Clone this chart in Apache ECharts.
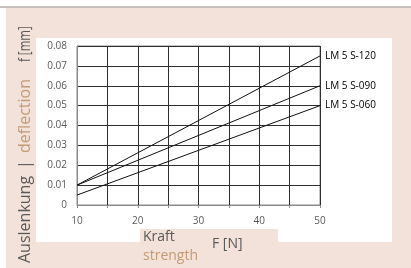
<!DOCTYPE html>
<html><head><meta charset="utf-8">
<script src="https://cdn.jsdelivr.net/npm/echarts@6/dist/echarts.min.js"></script>
<style>html,body{margin:0;padding:0;background:#fff}#c{width:411px;height:268px}</style>
</head><body><div id="c"></div>
<script>
const forceN = [10, 50];
const s120 = [0.01, 0.075];
const s090 = [0.01, 0.06];
const s060 = [0.005, 0.05];
const seriesNames = ['LM 5 S-120', 'LM 5 S-090', 'LM 5 S-060'];
const xTicks = [10, 20, 30, 40, 50];
const yTicks = ['0', '0.01', '0.02', '0.03', '0.04', '0.05', '0.06', '0.07', '0.08'];

const beige = '#f2e2d9';
const gray = '#595959';
const orange = '#c49a74';
const font = 'Open Sans';

const chart = echarts.init(document.getElementById('c'), null, {renderer: 'canvas'});
function mk(vals) { return forceN.map((x, i) => [x, vals[i]]); }
const allVals = [s120, s090, s060];
function vtext(txt, y, color, size, sx) {
  return {type: 'text', z: 5, x: 25, y: y, rotation: Math.PI / 2, scaleX: sx || 1,
    style: {text: txt, fill: color, font: size + 'px "Open Sans"', textVerticalAlign: 'middle', textAlign: 'left'}};
}
chart.setOption({
  animation: false,
  backgroundColor: '#ffffff',
  graphic: [
    {type: 'rect', z: -10, shape: {x: 6, y: 8, width: 405, height: 260}, style: {fill: beige}},
    {type: 'rect', z: -10, shape: {x: 0, y: 6, width: 411, height: 2}, style: {fill: '#c4bfbd'}},
    {type: 'rect', z: -9, shape: {x: 36, y: 38, width: 356, height: 204}, style: {fill: '#ffffff'}},
    {type: 'rect', z: -8, shape: {x: 140, y: 229, width: 138, height: 13}, style: {fill: beige}},
    {type: 'text', z: 5, x: 143, y: 237, style: {text: 'Kraft', fill: gray, font: '14px "Open Sans"', textVerticalAlign: 'middle'}},
    {type: 'text', z: 5, x: 143, y: 256, style: {text: 'strength', fill: orange, font: '14px "Open Sans"', textVerticalAlign: 'middle'}},
    {type: 'text', z: 5, x: 212, y: 244, style: {text: 'F [N]', fill: gray, font: '14px "Open Sans"', textVerticalAlign: 'middle'}},
    vtext('Auslenkung', 263, gray, 16),
    vtext('|', 169, gray, 16),
    vtext('deflection', 153, orange, 16),
    vtext('f [mm]', 62, gray, 16, 0.72)
  ],
  grid: {left: 77, right: 91, top: 46, bottom: 63, show: true, borderColor: '#8a8a8a', borderWidth: 1, backgroundColor: 'transparent'},
  xAxis: {
    type: 'value', min: 10, max: 50, interval: 5,
    axisLine: {show: true, onZero: false, lineStyle: {color: '#8a8a8a'}},
    axisTick: {show: true, length: 3, lineStyle: {color: '#8a8a8a'}},
    axisLabel: {color: gray, fontSize: 10, fontFamily: font, margin: 11,
      formatter: v => xTicks.indexOf(v) >= 0 ? String(v) : ''},
    splitLine: {show: true, lineStyle: {color: '#2e2e2e'}}
  },
  yAxis: {
    type: 'value', min: 0, max: 0.08, interval: 0.01,
    axisLine: {show: true, lineStyle: {color: '#8a8a8a'}},
    axisTick: {show: false},
    axisLabel: {color: gray, fontSize: 10, fontFamily: font, margin: 10,
      formatter: (v) => yTicks[Math.round(v * 100)]},
    splitLine: {show: true, lineStyle: {color: '#2e2e2e'}}
  },
  series: seriesNames.map((n, i) => ({
    name: n, type: 'line', data: mk(allVals[i]), showSymbol: false, symbol: 'none',
    lineStyle: {color: '#111', width: 1}, z: 3,
    endLabel: {show: true, formatter: n, color: '#000', fontSize: 10, fontFamily: font, distance: 5}
  }))
});
</script></body></html>
